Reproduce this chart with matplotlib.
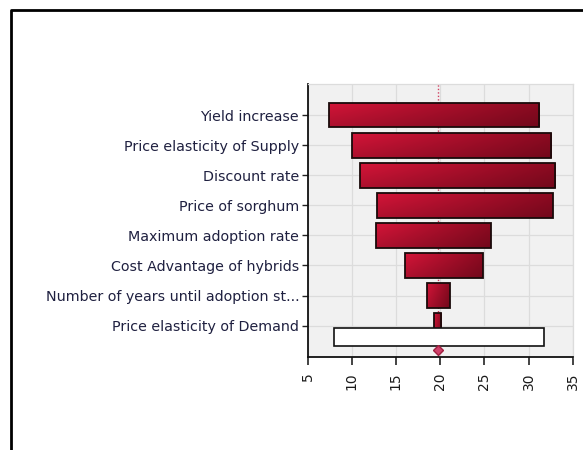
import matplotlib
matplotlib.use("Agg")
import matplotlib.pyplot as plt
import numpy as np
from matplotlib.lines import Line2D

# ---- data ----
labels = ["Yield increase", "Price elasticity of Supply", "Discount rate",
          "Price of sorghum", "Maximum adoption rate", "Cost Advantage of hybrids",
          "Number of years until adoption st...", "Price elasticity of Demand"]
low_vals = [7.4, 10.0, 10.9, 12.9, 12.8, 16.0, 18.5, 19.3]
high_vals = [31.2, 32.6, 33.0, 32.8, 25.8, 24.8, 21.1, 20.1]
base_value = 19.8
blank_box = [8.0, 31.8]
x_ticks = [5, 10, 15, 20, 25, 30, 35]

W, H = 583, 450
fig = plt.figure(figsize=(W / 100, H / 100), dpi=100)
fig.patch.set_facecolor("white")

ax = fig.add_axes([307.5 / W, 1 - 357 / H, (572.7 - 307.5) / W, (357 - 84) / H])
ax.set_facecolor("#f1f1f1")

ypos = np.arange(len(labels))
bar_h = 0.83
lefts = np.array(low_vals)
widths = np.array(high_vals) - lefts

# gradient image used to fill bars
grad = np.zeros((20, 200, 3))
c_left = np.array([0.83, 0.08, 0.22])
c_right = np.array([0.55, 0.04, 0.13])
t = np.linspace(0, 1, 200)[None, :, None]
v = np.linspace(0, 1, 20)[:, None, None]
grad[:] = c_left * (1 - t) + c_right * t
grad = grad * (1.0 - 0.18 * v)

ax.axvline(base_value, color="#d04060", linestyle=(0, (1, 1.5)), linewidth=1.0, zorder=1)

bars = ax.barh(ypos, widths, left=lefts, height=bar_h, color="none",
               edgecolor="#1a0a0a", linewidth=1.3, zorder=3)
for b in bars:
    x0, y0 = b.get_x(), b.get_y()
    w, h = b.get_width(), b.get_height()
    im = ax.imshow(grad, extent=[x0, x0 + w, y0 + h, y0], aspect="auto",
                   zorder=2, interpolation="bilinear")
    im.set_clip_path(b)

# blank framed box below the bars
ax.barh([len(labels) - 1 + 0.37], [blank_box[1] - blank_box[0]], left=blank_box[0],
        height=0.6, color="white", edgecolor="#111111", linewidth=1.2, zorder=4)

ax.plot([base_value], [7.8], marker="D", markersize=5, color="#d0406a",
        markeredgecolor="#a02040", zorder=5, clip_on=False)

ax.set_xlim(5, 35)
ax.set_ylim(8.04, -1.03)
ax.set_xticks(x_ticks)
ax.set_xticklabels([str(v) for v in x_ticks], rotation=90, fontsize=10, color="#1a1a1a")
ax.set_yticks(ypos)
ax.set_yticklabels(labels, fontsize=10.3, color="#1f2040")
ax.tick_params(axis="y", length=4, width=1, pad=2, color="#222222")
ax.tick_params(axis="x", length=5.5, width=1.2, pad=5.5, color="#222222")

ax.grid(True, color="#dcdcdc", linewidth=0.9, zorder=0)
ax.set_axisbelow(True)
for s in ["top", "right"]:
    ax.spines[s].set_color("#dcdcdc")
    ax.spines[s].set_linewidth(0.9)
for s in ["left", "bottom"]:
    ax.spines[s].set_color("#111111")
    ax.spines[s].set_linewidth(1.3)

# figure frame (left and top black lines)
fx = 11 / W
fy = 1 - 9.5 / H
fig.add_artist(Line2D([fx, fx, 1.02], [-0.02, fy, fy], transform=fig.transFigure,
                      color="black", linewidth=2.0))

fig.savefig("out.png", dpi=100)
